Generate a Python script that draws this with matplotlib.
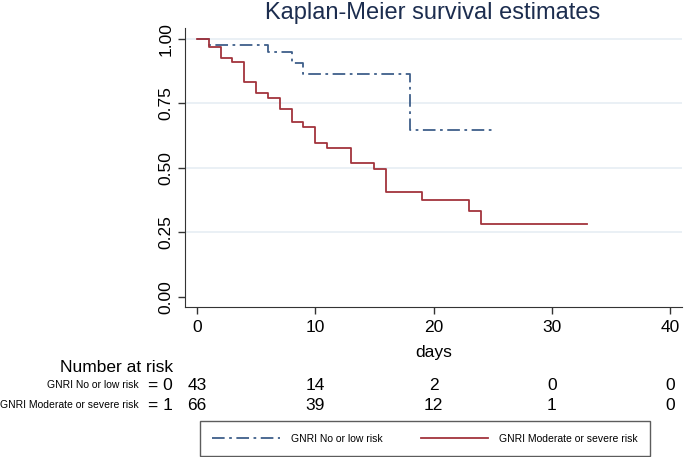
import matplotlib
matplotlib.use('Agg')
import matplotlib.pyplot as plt
from matplotlib.transforms import blended_transform_factory

plt.rcParams['font.family'] = ['Liberation Sans', 'DejaVu Sans']

# Kaplan-Meier step data
low_times = [0, 1, 6, 8, 9, 18, 25]
low_surv = [1.0, 0.977, 0.948, 0.908, 0.864, 0.648, 0.648]

mod_times = [0, 1, 2, 3, 4, 5, 6, 7, 8, 9, 10, 11, 13, 15, 16, 19, 23, 24, 33]
mod_surv = [1.0, 0.970, 0.925, 0.910, 0.835, 0.790, 0.773, 0.727, 0.679, 0.660,
            0.596, 0.576, 0.518, 0.495, 0.405, 0.377, 0.332, 0.283, 0.283]

risk_times = [0, 10, 20, 30, 40]
risk_low = [43, 14, 2, 0, 0]
risk_mod = [66, 39, 12, 1, 0]

x_ticks = [0, 10, 20, 30, 40]
y_ticks = [0.00, 0.25, 0.50, 0.75, 1.00]

blue = '#3f5f8a'
red = '#a3343d'

fig = plt.figure(figsize=(6.85, 4.57), dpi=100)
ax = fig.add_axes([185/685, 1-307/457, 497/685, 279/457])

for y in y_ticks[1:]:
    ax.axhline(y, color='#e6edf3', lw=1.2, zorder=0)

ax.step(low_times, low_surv, where='post', color=blue, lw=1.3,
        dashes=(7, 2.5, 1.5, 2.5), label='GNRI No or low risk')
ax.step(mod_times, mod_surv, where='post', color=red, lw=1.3,
        label='GNRI Moderate or severe risk')

ax.set_xlim(-1, 41)
ax.set_ylim(-0.04, 1.043)
ax.set_xticks(x_ticks)
ax.set_yticks(y_ticks)
ax.set_yticklabels(['%.2f' % v for v in y_ticks], rotation=90, va='center')
ax.tick_params(labelsize=12.5, length=5, width=1, color='#333333')
ax.tick_params(axis='x', pad=4)
ax.spines['top'].set_visible(False)
ax.spines['right'].set_visible(False)
ax.spines['left'].set_color('#333333')
ax.spines['bottom'].set_color('#333333')
ax.set_xlabel('days', fontsize=12.5)
ax.xaxis.set_label_coords(0.5, -0.135)

fig.text(433/685, 1-13/457, 'Kaplan-Meier survival estimates', fontsize=17,
         color='#1c2d4f', ha='center', va='center')

# number at risk table
trans = blended_transform_factory(ax.transData, fig.transFigure)
fig.text(173/685, 1-368/457, 'Number at risk', fontsize=12.5, ha='right', va='center')
row_y = [1-385/457, 1-405/457]
fig.text(139/685, row_y[0], 'GNRI No or low risk', fontsize=7.5, ha='right', va='center')
fig.text(139/685, row_y[1], 'GNRI Moderate or severe risk', fontsize=7.5, ha='right', va='center')
fig.text(148/685, row_y[0], '= 0', fontsize=12.5, ha='left', va='center')
fig.text(148/685, row_y[1], '= 1', fontsize=12.5, ha='left', va='center')
for t, a, b in zip(risk_times, risk_low, risk_mod):
    fig.text(t, row_y[0], str(a), fontsize=12.5, ha='center', va='center', transform=trans)
    fig.text(t, row_y[1], str(b), fontsize=12.5, ha='center', va='center', transform=trans)

leg = fig.legend(loc='center', bbox_to_anchor=(200/685, 1-454/457, 450/685, 31/457),
                 mode='expand', ncol=2, fontsize=7.5, handlelength=6.5,
                 handletextpad=1.0, fancybox=False, edgecolor='#333333',
                 borderaxespad=0, borderpad=1.2)
leg.get_frame().set_linewidth(1)

fig.savefig('out.png', dpi=100)
